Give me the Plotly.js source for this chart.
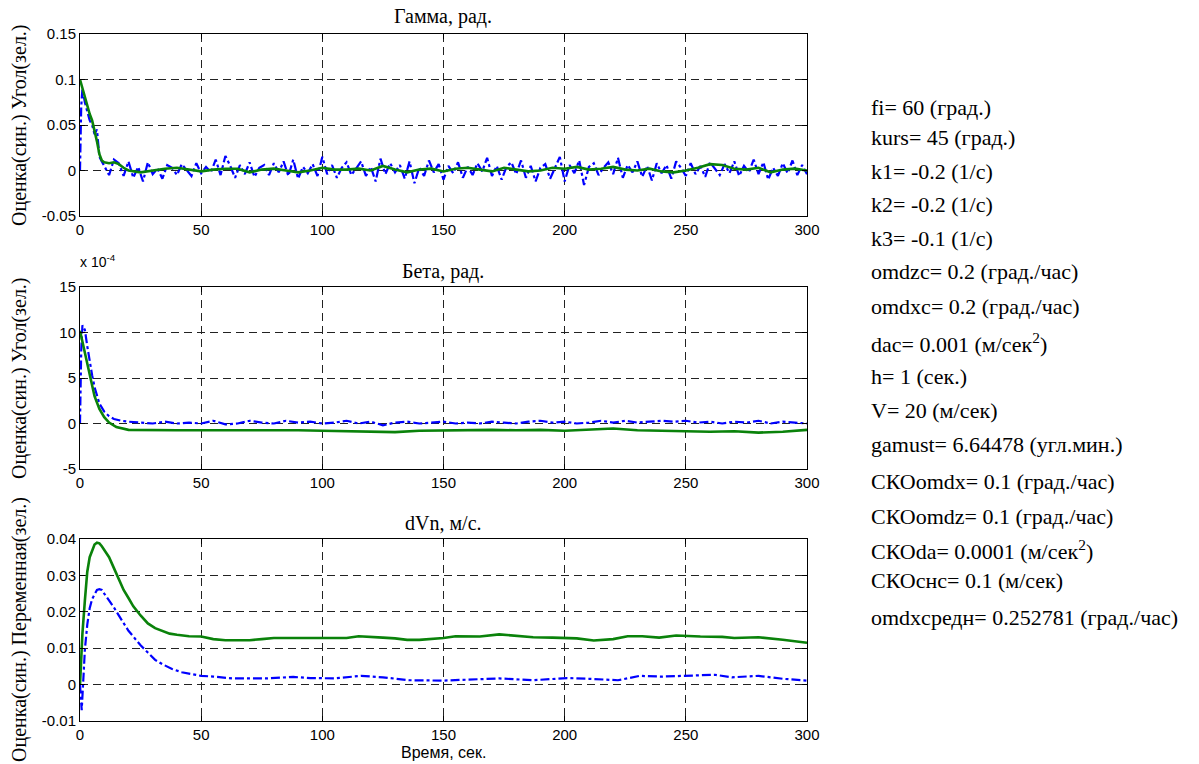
<!DOCTYPE html>
<html>
<head>
<meta charset="utf-8">
<script src="https://cdn.plot.ly/plotly-3.0.1.min.js"></script>
<style>
html,body{margin:0;padding:0;background:#fff;}
#chart{width:1199px;height:764px;}
</style>
</head>
<body>
<div id="chart"></div>
<script>
// ---------- DATA ----------
// Plot 1: Gamma, rad.
var gammaEstEarlyT = [0, 0.5, 1, 2, 3, 4, 5, 6, 7, 8, 9, 10];
var gammaEstEarly  = [0, 0.07, 0.09, 0.075, 0.065, 0.055, 0.05, 0.04, 0.045, 0.015, 0.01, 0.005];
// estimate (blue), sampled every 2 s from t = 12 to 300
var gammaEstNoise = [
 -0.005, 0.012, 0.008, -0.006, 0.010, -0.008, 0.004, -0.012, 0.009, -0.004,
  0.002, -0.009, 0.006, 0.003, -0.005, 0.007, 0.001, -0.006, 0.008, -0.003,
  0.004, -0.002, 0.012, -0.005, 0.016, 0.005, -0.008, 0.006, -0.004, 0.009,
 -0.007, 0.003, 0.006, -0.005, 0.008, -0.002, 0.010, -0.006, 0.012, -0.009,
  0.004, -0.003, 0.007, -0.006, 0.015, -0.004, 0.006, -0.008, 0.003, 0.009,
 -0.005, 0.002, 0.010, -0.006, 0.004, -0.012, 0.013, -0.004, 0.008, -0.002,
  0.006, -0.009, 0.010, -0.014, 0.003, -0.006, 0.011, -0.002, 0.007, -0.010,
  0.005, -0.003, 0.009, -0.008, 0.004, -0.005, 0.008, -0.001, 0.014, -0.006,
  0.005, -0.010, 0.004, 0.009, -0.004, 0.011, -0.008, 0.005, -0.012, 0.003,
  0.007, -0.009, 0.004, 0.015, -0.012, 0.006, -0.003, 0.011, -0.016, 0.004,
  0.008, -0.005, 0.003, 0.009, -0.004, 0.014, -0.008, 0.006, -0.002, 0.010,
 -0.007, 0.005, -0.011, 0.008, -0.003, 0.006, -0.009, 0.010, 0.003, -0.006,
  0.008, -0.004, 0.005, -0.007, 0.009, 0.002, -0.005, 0.007, -0.003, 0.010,
 -0.006, 0.005, -0.002, 0.012, -0.004, 0.009, -0.010, 0.003, -0.006, 0.008,
 -0.003, 0.011, -0.005, 0.006, -0.004
];
// true angle (green)
var gammaTrueT = [0,1,2,3,4,5,6,7,8,9,10,12,14,16,18,20,
  25,30,35,40,45,50,55,60,65,70,75,80,85,90,95,100,105,110,115,120,
  125,130,135,140,145,150,155,160,165,170,175,180,185,190,195,200,205,210,215,220,
  225,230,235,240,245,250,255,260,265,270,275,280,285,290,295,300];
var gammaTrue = [0.1, 0.09, 0.083, 0.072, 0.062, 0.055, 0.045, 0.032, 0.018, 0.011, 0.009, 0.008, 0.009, 0.007, 0.003, 0.0,
  -0.002, 0.0, 0.002, 0.003, 0.001, -0.001, 0.001, 0.002, 0.002, -0.002,
  0.001, 0.002, 0.0, -0.002, 0.0, 0.003, 0.001, 0.001, 0.002, 0.0,
  0.005, 0.001, -0.002, 0.001, 0.002, -0.001, 0.002, 0.003, 0.001, -0.001,
  0.003, 0.001, -0.001, 0.0, 0.003, 0.002, 0.004, 0.001, 0.002, 0.004,
  0.001, 0.0, 0.002, -0.001, -0.002, 0.0, 0.003, 0.007, 0.006, 0.002,
  0.001, 0.003, -0.002, 0.001, 0.002, 0.0];

// Plot 2: Beta, rad. (values in units of 1e-4)
var betaEstEarlyT = [0, 0.5, 1, 2, 3, 4, 5, 6, 7, 8, 10, 12, 14, 17, 20, 25];
var betaEstEarly  = [0, 8, 10.8, 10.3, 8.5, 6.8, 5.3, 4.0, 3.0, 2.2, 1.3, 0.8, 0.5, 0.3, 0.2, 0.1];
// sampled every 5 s from t = 30 to 300
var betaEstLate = [
  0.0, 0.2, 0.0, 0.1, 0.0, 0.3, -0.1, 0.0, 0.3, 0.1,
  0.0, 0.3, 0.1, 0.2, 0.0, 0.1, 0.3, 0.0, 0.2, -0.2,
  0.1, 0.2, 0.0, 0.1, 0.2, 0.0, 0.1, 0.0, 0.2, 0.1,
  0.0, 0.2, 0.3, 0.1, 0.2, 0.0, 0.1, 0.3, 0.1, 0.3,
  0.1, 0.2, 0.3, 0.2, 0.3, 0.1, 0.2, 0.0, 0.2, 0.1,
  0.3, 0.0, 0.2, 0.1, 0.0
];
var betaTrueT = [0,1,2,3,4,5,6,8,10,12,15,20,
  30,40,50,60,70,80,90,100,110,120,130,140,150,160,170,180,190,200,
  210,220,230,240,250,260,270,280,290,300];
var betaTrue = [10.2, 9.0, 7.8, 6.5, 5.2, 4.0, 3.0, 1.6, 0.7, 0.1, -0.4, -0.7,
  -0.75, -0.75, -0.75, -0.75, -0.7, -0.75, -0.75, -0.8, -0.85, -0.95,
  -0.95, -0.8, -0.75, -0.7, -0.7, -0.75, -0.7, -0.8, -0.7, -0.55,
  -0.75, -0.8, -0.8, -0.9, -0.85, -1.0, -0.9, -0.7];

// Plot 3: dVn, m/s
var dvnTrueT = [0,1,2,3,4,5,6,7,8,9,10,12,14,16,18,20,22,25,28,31,34,37,40,45,50,55,60,65,70,75,80,
  90,100,110,115,120,125,130,135,140,150,155,165,173,180,187,195,200,205,212,
  220,226,232,239,246,256,265,270,280,290,300];
var dvnTrue = [0, 0.014, 0.023, 0.031, 0.035, 0.037, 0.0385, 0.039, 0.0388, 0.038, 0.037,
  0.035, 0.032, 0.029, 0.026, 0.0238, 0.0215, 0.019, 0.0168, 0.0155, 0.0148, 0.014, 0.0137,
  0.0133, 0.0132, 0.0125, 0.0122, 0.0121, 0.0122, 0.0125, 0.0128,
  0.0128, 0.0128, 0.0128, 0.0133, 0.0130, 0.0129, 0.0127, 0.0123, 0.0123,
  0.0128, 0.0133, 0.0132, 0.0138, 0.0134, 0.013, 0.0129, 0.0129, 0.0127, 0.0121,
  0.0125, 0.0133, 0.0133, 0.0129, 0.0135, 0.0132, 0.0131, 0.0128, 0.013, 0.0123, 0.0115];
var dvnEstT = [0,0.7,1.5,2,3,4,5,6,7,8,9,10,12,14,16,18,20,22,25,28,31,34,38,42,46,50,55,63,70,77,
  88,95,105,116,125,136,150,160,173,187,201,210,222,231,240,249,262,269,280,290,300];
var dvnEst = [0, -0.007, 0.003, 0.0095, 0.0165, 0.021, 0.0235, 0.025, 0.026, 0.0262,
  0.026, 0.025, 0.0232, 0.0212, 0.019, 0.0168, 0.0148, 0.0132, 0.0108, 0.0088,
  0.0068, 0.0056, 0.0043, 0.0034, 0.0028, 0.0024, 0.0022, 0.0017, 0.0017, 0.0017,
  0.0021, 0.0018, 0.0017, 0.0024, 0.002, 0.0012, 0.0011, 0.0013, 0.0017, 0.0012,
  0.0018, 0.0016, 0.0012, 0.0024, 0.0022, 0.0024, 0.0027, 0.002, 0.0024, 0.0016, 0.0011];

// Tick labels
var xTickVals = [0, 50, 100, 150, 200, 250, 300];
var xTickText = ['0', '50', '100', '150', '200', '250', '300'];
var y1TickVals = [-0.05, 0, 0.05, 0.1, 0.15];
var y1TickText = ['-0.05', '0', '0.05', '0.1', '0.15'];
var y2TickVals = [-5, 0, 5, 10, 15];
var y2TickText = ['-5', '0', '5', '10', '15'];
var y3TickVals = [-0.01, 0, 0.01, 0.02, 0.03, 0.04];
var y3TickText = ['-0.01', '0', '0.01', '0.02', '0.03', '0.04'];

// Titles & texts
var plotTitles = ['Гамма, рад.', 'Бета, рад.', 'dVn, м/с.'];
var yTitles = ['Оценка(син.) Угол(зел.)', 'Оценка(син.) Угол(зел.)', 'Оценка(син.) Переменная(зел.)'];
var xTitle = 'Время, сек.';
var paramLines = [
  'fi= 60 (град.)',
  'kurs= 45 (град.)',
  'k1= -0.2 (1/c)',
  'k2= -0.2 (1/c)',
  'k3= -0.1 (1/c)',
  'omdzc= 0.2 (град./час)',
  'omdxc= 0.2 (град./час)',
  'dac= 0.001 (м/сек<sup>2</sup>)',
  'h= 1 (сек.)',
  'V= 20 (м/сек)',
  'gamust= 6.64478 (угл.мин.)',
  'СКОomdx= 0.1 (град./час)',
  'СКОomdz= 0.1 (град./час)',
  'СКОda= 0.0001 (м/сек<sup>2</sup>)',
  'СКОснс= 0.1 (м/сек)',
  'omdxсредн= 0.252781 (град./час)'
];

// ---------- BUILD ----------
var W = 1199, H = 764;
function px(x) { return x / W; }
function py(y) { return 1 - y / H; }

var gammaEstT = gammaEstEarlyT.slice();
var gammaEst = gammaEstEarly.concat(gammaEstNoise);
for (var i = 0; i < gammaEstNoise.length; i++) gammaEstT.push(12 + 2 * i);
var betaEstT = betaEstEarlyT.slice();
var betaEst = betaEstEarly.concat(betaEstLate);
for (var j = 0; j < betaEstLate.length; j++) betaEstT.push(30 + 5 * j);

var BLUE = '#0000ff', GREEN = '#0a820a';
function est(x, y, ax) {
  return {x: x, y: y, xaxis: 'x' + ax, yaxis: 'y' + ax, type: 'scatter', mode: 'lines',
    line: {color: BLUE, width: 2.2, dash: 'dashdot'}, hoverinfo: 'skip'};
}
function tru(x, y, ax) {
  return {x: x, y: y, xaxis: 'x' + ax, yaxis: 'y' + ax, type: 'scatter', mode: 'lines',
    line: {color: GREEN, width: 2.6}, hoverinfo: 'skip'};
}
var traces = [
  est(gammaEstT, gammaEst, ''), tru(gammaTrueT, gammaTrue, ''),
  est(betaEstT, betaEst, '2'), tru(betaTrueT, betaTrue, '2'),
  est(dvnEstT, dvnEst, '3'), tru(dvnTrueT, dvnTrue, '3')
];

var SANS = '"Liberation Sans", Arial, sans-serif';
var SERIF = '"Liberation Serif", "Times New Roman", serif';
var tickFont = {family: SANS, size: 15, color: '#000'};
function xAx(anchor) {
  return {domain: [px(80), px(807)], range: [0, 300], anchor: anchor,
    tickvals: xTickVals, ticktext: xTickText, ticks: 'inside', ticklen: 5, tickcolor: '#000',
    showline: true, linecolor: '#000', linewidth: 1, mirror: 'ticks',
    showgrid: true, gridcolor: '#222', griddash: '8px,5px', gridwidth: 1,
    zeroline: false, tickfont: tickFont, fixedrange: true};
}
function yAx(anchor, top, bottom, range, tv, tt) {
  return {domain: [py(bottom), py(top)], range: range, anchor: anchor,
    tickvals: tv, ticktext: tt, ticks: 'inside', ticklen: 5, tickcolor: '#000',
    showline: true, linecolor: '#000', linewidth: 1, mirror: 'ticks',
    showgrid: true, gridcolor: '#222', griddash: '8px,5px', gridwidth: 1,
    zeroline: false, tickfont: tickFont, fixedrange: true};
}

var ann = [];
var titleY = [16, 271, 523];
var plotCenters = [125, 378, 630];
for (var k = 0; k < 3; k++) {
  ann.push({text: plotTitles[k], x: px(443), y: py(titleY[k]), xref: 'paper', yref: 'paper',
    xanchor: 'center', yanchor: 'middle', showarrow: false, font: {family: SERIF, size: 20, color: '#000'}});
  ann.push({text: yTitles[k], x: px(19), y: py(plotCenters[k]), xref: 'paper', yref: 'paper',
    xanchor: 'center', yanchor: 'middle', textangle: -90, showarrow: false,
    font: {family: SERIF, size: 20, color: '#000'}});
}
ann.push({text: xTitle, x: px(443), y: py(752), xref: 'paper', yref: 'paper', xanchor: 'center',
  yanchor: 'middle', showarrow: false, font: {family: SANS, size: 16, color: '#000'}});
ann.push({text: 'x 10<sup>-4</sup>', x: px(78), y: py(272), xref: 'paper', yref: 'paper', xanchor: 'left',
  yanchor: 'bottom', showarrow: false, font: {family: SANS, size: 14, color: '#000'}});

var paramY = [108, 138, 171, 205, 238, 271, 306, 343, 376, 410, 444, 481, 516, 550, 580, 617];
for (var m = 0; m < paramLines.length; m++) {
  ann.push({text: paramLines[m], x: px(869), y: py(paramY[m]), xref: 'paper', yref: 'paper',
    xanchor: 'left', yanchor: 'middle', showarrow: false, font: {family: SERIF, size: 22, color: '#000'}});
}

var layout = {
  width: W, height: H, margin: {l: 0, r: 0, t: 0, b: 0},
  paper_bgcolor: '#fff', plot_bgcolor: '#fff', showlegend: false,
  xaxis: xAx('y'), yaxis: yAx('x', 34, 216, [-0.05, 0.15], y1TickVals, y1TickText),
  xaxis2: xAx('y2'), yaxis2: yAx('x2', 287, 469, [-5, 15], y2TickVals, y2TickText),
  xaxis3: xAx('y3'), yaxis3: yAx('x3', 539, 721, [-0.01, 0.04], y3TickVals, y3TickText),
  annotations: ann
};

Plotly.newPlot('chart', traces, layout, {staticPlot: true, displayModeBar: false});
</script>
</body>
</html>
